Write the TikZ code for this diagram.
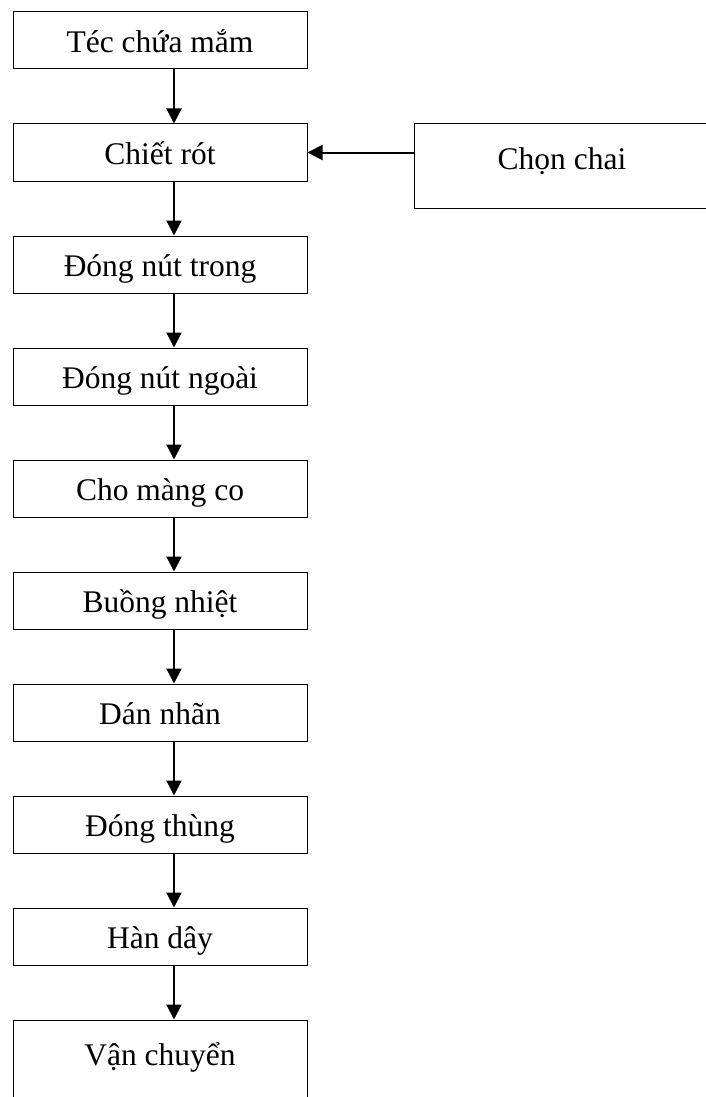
\documentclass[tikz,border=0pt]{standalone}
\usepackage{fontspec}
\setmainfont{Liberation Serif}
\usetikzlibrary{arrows.meta}
\usetikzlibrary{positioning}

\tikzset{
  stepbox/.style={rectangle, draw=black, line width=1pt, minimum width=294pt,
    minimum height=57pt, inner sep=0pt, text height=32pt, text depth=8pt,
    font=\fontsize{31.5}{38}\selectfont},
  tallbox/.style={stepbox, minimum height=84pt, text depth=25pt},
  flow/.style={line width=2pt, -{Triangle[length=15pt, width=15pt]}}
}

\begin{document}
\begin{tikzpicture}[x=1pt, y=-1pt]

        % Page frame
        \clip (0, 0) rectangle (706, 1097);

        % Vertical distance between steps
        \def\vstep{112}

        % Shift of the arrows to the right of the box centre
        \def\ashift{14pt}

        % Process steps in the left column
        \foreach \i/\txt in {1/Téc chứa mắm, 2/Chiết rót, 3/Đóng nút trong,
          4/Đóng nút ngoài, 5/Cho màng co, 6/Buồng nhiệt, 7/Dán nhãn,
          8/Đóng thùng, 9/Hàn dây} {
          \node[stepbox] (b\i) at (160, {40.5 + (\i-1)*\vstep}) {\txt};
        }

        % Last step, taller box running off the page
        \node[tallbox] (b10) at (160, 1062) {Vận chuyển};

        % Bottle selection feeding the filling step
        \node[tallbox, minimum width=296pt] (chon) at (562, 166) {Chọn chai};

        % Arrows between the steps
        \foreach \i [count=\j from 2] in {1,...,9} {
          \draw[flow] ([xshift=\ashift]b\i.south) -- ([xshift=\ashift]b\j.north);
        }

        % Arrow into the filling step
        \draw[flow] (chon.west |- b2.east) -- (b2.east);

      \end{tikzpicture}
\end{document}
